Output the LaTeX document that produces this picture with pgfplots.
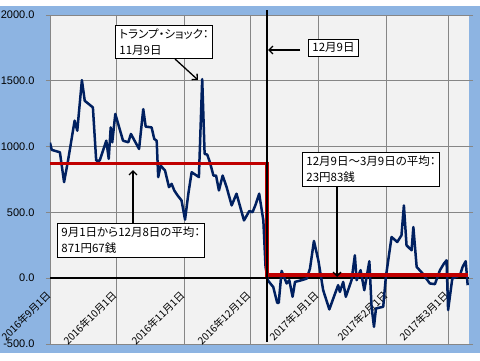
\documentclass[border=0pt]{standalone}
\usepackage{pgfplots}
\pgfplotsset{compat=1.18}
\usepackage{fontspec}
\setmainfont{Liberation Sans}
\newfontfamily\jp[RawFeature=+palt]{Noto Sans CJK JP}
\usetikzlibrary{arrows.meta}
\definecolor{bgblue}{RGB}{141,180,226}
\definecolor{plotbg}{RGB}{242,242,242}
\definecolor{gridgray}{RGB}{134,134,134}
\definecolor{navyline}{RGB}{0,32,96}
\definecolor{darkred}{RGB}{192,0,0}
\begin{document}
\begin{tikzpicture}[x=1pt,y=1pt]
\useasboundingbox (0,0) rectangle (480,360);
\fill[white] (0,0) rectangle (480,360);
\fill[bgblue] (0,7) rectangle (480,354);
\begin{axis}[
  scale only axis, width=419pt, height=329pt,
  at={(50pt,16pt)}, anchor=south west,
  xmin=0, xmax=190.5, ymin=-500, ymax=2000,
  axis background/.style={fill=plotbg},
  axis line style={draw=none},
  grid=major, major grid style={gridgray, line width=0.8pt},
  xtick={0,30,61,91,122,153,181},
  xticklabels={2016年9月1日,2016年10月1日,2016年11月1日,2016年12月1日,2017年1月1日,2017年2月1日,2017年3月1日},
  xticklabel style={font=\jp\fontsize{10.2}{12}\selectfont, yshift=57pt, xshift=1.5pt, rotate=45, anchor=east},
  xtick style={draw=none},
  ytick={-500,0,500,1000,1500,2000},
  yticklabels={-500.0,0.0,500.0,1000.0,1500.0,2000.0},
  yticklabel style={font=\fontsize{11}{13}\selectfont, xshift=-8pt},
  ytick style={gridgray, line width=0.8pt},
  tick align=outside, major tick length=4pt,
]
\addplot[black, line width=1.8pt] coordinates {(0,0) (190.5,0)};
\addplot[navyline, line width=2.5pt, line join=round] coordinates {
(0,1030) (0.8,975) (4.5,957) (6.4,730) (8.2,894) (11.2,1197) (12.4,1121)
(14.5,1505) (15.8,1348) (19.5,1298) (21,894) (22.6,894) (25.6,1045)
(26.7,907) (27.6,1146) (28.3,1033) (29.7,1248) (33.2,1045) (35.6,1033)
(36.8,1096) (40.5,982) (42.4,1285) (43.5,1152) (46.2,1146) (47.4,1058)
(48.5,1045) (49.2,768) (50.3,856) (52.3,818) (54.1,692) (55.3,717)
(56.5,667) (58,629) (59.8,591) (61.4,445) (62.9,642) (64.4,805)
(66.7,780) (67.7,768) (69.2,1513) (70.3,945) (71.5,939) (72.7,881)
(74.3,780) (75.5,780) (76.8,667) (78.5,780) (80.3,692) (82.6,553)
(84.8,642) (88.2,439) (90.6,510) (92.1,502) (93.5,560) (95.1,642)
(97,439) (98,86) (99,-15) (100.8,-53) (101.5,-66) (103.3,-187)
(104,-187) (105.3,55) (107.6,-40) (108.8,-15) (110.3,-141) (111.4,-28)
(114.4,-15) (116.7,-3) (118.2,73) (120,283) (122,136) (124.2,-91)
(127,-237) (128.8,-154) (131,-53) (131.8,-104) (133.3,-28) (134.5,-141)
(137.1,-15) (138.6,174) (139.4,-15) (141.2,61) (142.9,-91) (145.2,129)
(146.2,-217) (147.3,-369) (148.2,-230) (151.5,-217) (152.7,10) (155.3,313)
(157.9,275) (159.8,326) (160.9,553) (162.1,250) (164.4,212) (165.2,389)
(166.7,86) (169.4,36) (172.7,-40) (175,-45) (177.3,61) (179.1,111)
(180.3,136) (181,-242) (182.9,-3) (186.4,23) (187.6,86) (189,129) (189.9,-53)
};
\addplot[darkred, line width=3.2pt] coordinates {(0,871.67) (98.7,871.67) (98.7,23.83) (189.9,23.83)};
\end{axis}
\draw[black, line width=2pt] (266.5,18) -- (266.5,350);
\tikzset{ann/.style={draw=black, line width=0.8pt, fill=white, align=left,
  inner xsep=4pt, inner ysep=3.5pt, anchor=north west,
  font=\jp\fontsize{11.5}{16}\selectfont},
  arr/.style={black, line width=1.3pt, -{Straight Barb[length=4pt,width=8pt]}}}
\draw[arr] (175,301) -- (198,280);
\draw[arr] (300,310) -- (268,310);
\draw[arr] (337,174) -- (337,83);
\draw[arr] (133,137) -- (133,190);
\node[ann] at (115,335) {トランプ・ショック：\\11月9日};
\node[ann] at (308,321) {12月9日};
\node[ann] at (302,208) {12月9日～3月9日の平均：\\23円83銭};
\node[ann] at (57,137) {9月1日から12月8日の平均：\\871円67銭};
\end{tikzpicture}
\end{document}
